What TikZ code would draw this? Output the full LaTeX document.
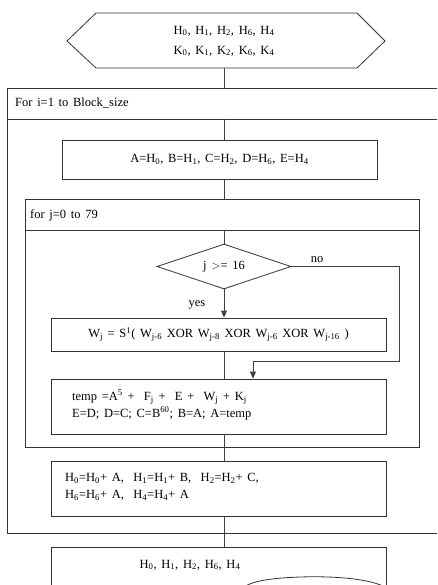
\documentclass[tikz,border=0pt]{standalone}
\usepackage{fontspec}
\setmainfont{Liberation Serif}[WordSpace=1.5]
\usetikzlibrary{shapes.geometric,arrows.meta}
\newcommand\sbs[1]{\textsubscript{#1}}
\newcommand\sps[1]{\textsuperscript{#1}}
\begin{document}
\begin{tikzpicture}[x=1pt,y=-1pt,
  ln/.style={draw=black!80,line width=0.8pt},
  conn/.style={draw=black!75,line width=0.8pt},
  arr/.style={conn,-{Triangle[length=7pt,width=6pt]}},
  box/.style={ln,rectangle,inner sep=0pt,font=\fontsize{12.5}{17}\selectfont},
  lbl/.style={inner sep=0pt,font=\fontsize{12.5}{17}\selectfont}]
\useasboundingbox (0,0) rectangle (437,585);
\clip (0,0) rectangle (437,585);
\coordinate (sp) at (224,0);
% top hexagon
\draw[ln] (67,41) -- (96,13) -- (357,13) -- (385,41) -- (357,68) -- (96,68) -- cycle;
\node[lbl,align=center,font=\fontsize{12.5}{20}\selectfont] (hex) at (224,41) {H\sbs{0}, H\sbs{1}, H\sbs{2}, H\sbs{6}, H\sbs{4}\\K\sbs{0}, K\sbs{1}, K\sbs{2}, K\sbs{6}, K\sbs{4}};
\coordinate (hexb) at (224,68);
% outer loop
\draw[ln] (447,88) -- (7,88) -- (7,533) -- (447,533);
\draw[ln] (7,119) -- (447,119);
\node[lbl,anchor=west] (fori) at (15,103) {For i=1 to Block\_size};
\coordinate (outtop) at (224,88);
\coordinate (outhd) at (224,119);
\coordinate (outbot) at (224,533);
% A box
\node[box,minimum width=315,minimum height=39] (A) at (219.5,159.5) {A=H\sbs{0}, B=H\sbs{1}, C=H\sbs{2}, D=H\sbs{6}, E=H\sbs{4}};
% inner loop
\draw[ln] (25,199) rectangle (419,447);
\draw[ln] (25,230) -- (419,230);
\node[lbl,anchor=west] (forj) at (30,215) {for j=0 to 79};
\coordinate (intop) at (224,199);
\coordinate (inhd) at (224,230);
\coordinate (inbot) at (224,447);
% diamond
\node[ln,diamond,aspect=3,minimum width=134,minimum height=45,inner sep=0pt,lbl] (D) at (224,266.5) {j $>$= 16};
\node[lbl] (no) at (317,260) {no};
\node[lbl] (yes) at (197,305) {yes};
% W box
\node[box,minimum width=335,minimum height=33] (W) at (218.5,334.5) {W\sbs{j} = S\sps{1}( W\sbs{j-6} XOR W\sbs{j-8} XOR W\sbs{j-6} XOR W\sbs{j-16} )};
% temp box
\node[box,minimum width=335,minimum height=55] (T) at (218.5,406.5) {};
\node[lbl,anchor=west,align=left] (Tt) at (72,405) {temp =A\sps{5} + \ F\sbs{j} + \ E + \ W\sbs{j} + K\sbs{j}\\E=D; D=C; C=B\sps{60}; B=A; A=temp};
% H box
\node[box,minimum width=335,minimum height=55] (H) at (218.5,488.5) {};
\node[lbl,anchor=west,align=left] (Ht) at (65,487) {H\sbs{0}=H\sbs{0}+ A, \ H\sbs{1}=H\sbs{1}+ B, \ H\sbs{2}=H\sbs{2}+ C,\\H\sbs{6}=H\sbs{6}+ A, \ H\sbs{4}=H\sbs{4}+ A};
% final box
\node[box,minimum width=335,minimum height=60,anchor=north] (F) at (218.5,547) {};
\node[lbl] (Ft) at (190,565) {H\sbs{0}, H\sbs{1}, H\sbs{2}, H\sbs{6}, H\sbs{4}};
\draw[ln] (240,590) .. controls (250,580) and (275,578) .. (300,577) .. controls (330,576) and (365,578) .. (383,586);
% connectors
\draw[conn] (hexb) -- (outtop);
\draw[conn] (outhd) -- (A.north -| sp);
\draw[conn] (A.south -| sp) -- (intop);
\draw[conn] (inhd) -- (D.north);
\draw[arr] (D.south) -- (W.north -| D.south);
\draw[conn] (W.south -| sp) -- (T.north -| sp);
\coordinate (nr) at (399,266.5);
\coordinate (nd) at (399,361);
\coordinate (nl) at (253,361);
\draw[arr] (D.east) -- (nr) -- (nd) -- (nl) -- (T.north -| nl);
\draw[conn] (T.south -| sp) -- (inbot);
\draw[conn] (inbot) -- (H.north -| sp);
\draw[conn] (H.south -| sp) -- (outbot);
\draw[conn] (outbot) -- (F.north -| sp);
\end{tikzpicture}
\end{document}
